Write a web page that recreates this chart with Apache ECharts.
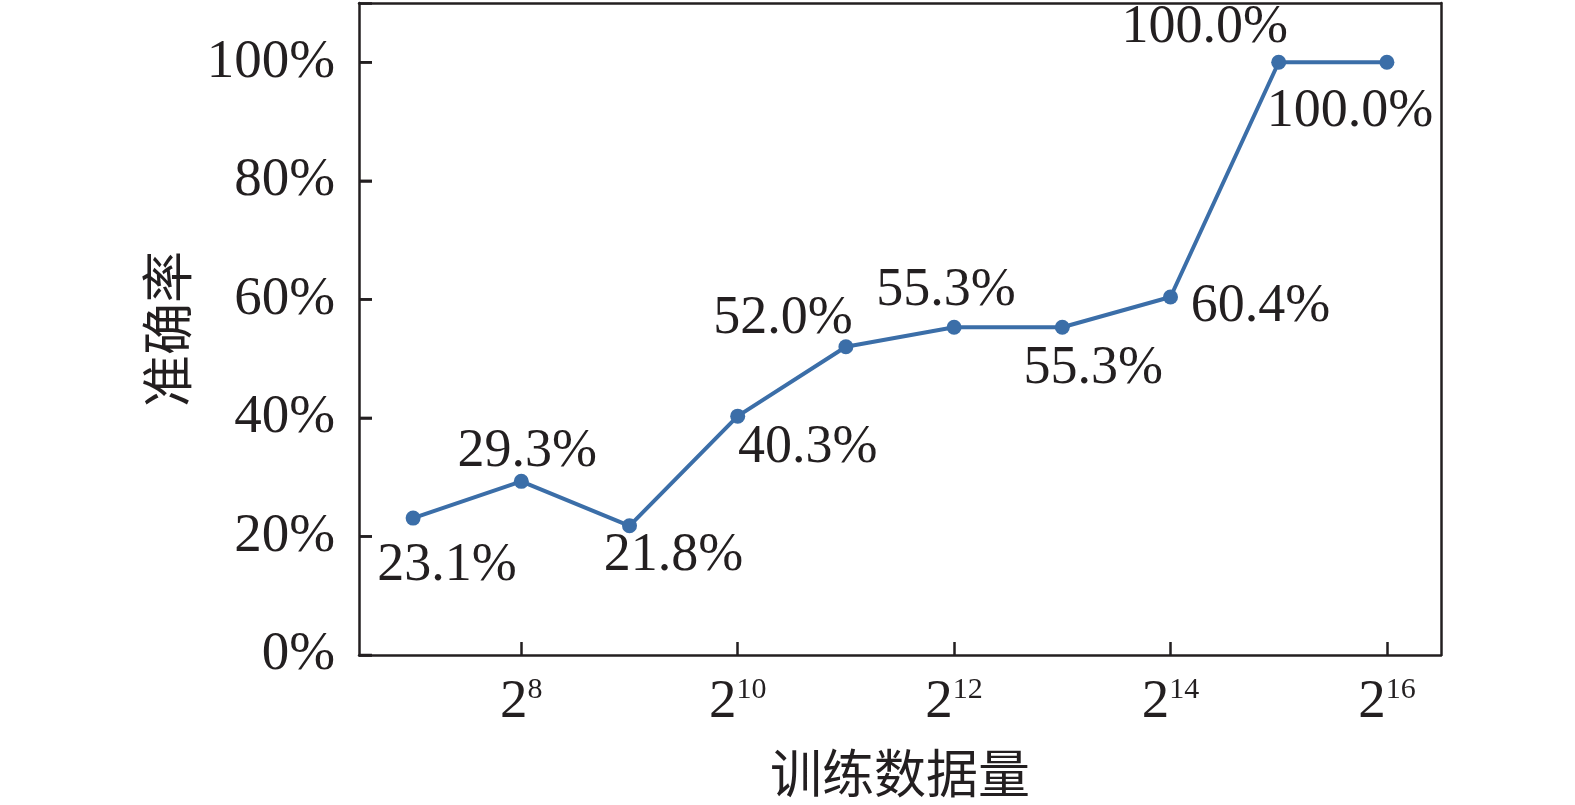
<!DOCTYPE html>
<html><head><meta charset="utf-8">
<script src="https://cdn.jsdelivr.net/npm/echarts@6/dist/echarts.min.js"></script>
<style>html,body{margin:0;padding:0;background:#fff}#c{width:1575px;height:805px}</style>
</head><body><div id="c"></div>
<script>
const exponents = [7, 8, 9, 10, 11, 12, 13, 14, 15, 16];
const accuracy = [23.1, 29.3, 21.8, 40.3, 52.0, 55.3, 55.3, 60.4, 100.0, 100.0];
const yTicks = [0, 20, 40, 60, 80, 100];
const xName = '训练数据量';
const yName = '准确率';
// label placement offsets (style only)
const labelOffsets = [[34,48],[6,-30],[44,30],[70,32],[-63,-28],[-8,-36],[31,42],[90,10],[-74,-34],[-37,50]];

const ink = '#231f20';
const blue = '#3b6ea8';
const serif = '"Liberation Serif","Times New Roman",serif';
const chart = echarts.init(document.getElementById('c'));
const evenOnly = (i) => exponents[i] % 2 === 0;
const frameAxis = {
  axisLine: {show: true, onZero: false, lineStyle: {color: ink, width: 2.5}},
  axisTick: {show: false}, axisLabel: {show: false}, splitLine: {show: false}
};
chart.setOption({
  animation: false,
  grid: {left: 359, right: 134, top: 3, bottom: 150, outerBoundsMode: 'none', containLabel: false},
  xAxis: [{
    type: 'category',
    data: exponents.map(String),
    boundaryGap: true,
    name: xName, nameLocation: 'middle', nameGap: 92, nameMoveOverlap: false,
    nameTextStyle: {fontFamily: '"Noto Sans CJK SC"', fontSize: 52, color: ink},
    axisLine: {show: true, onZero: false, lineStyle: {color: ink, width: 2.5}},
    axisTick: {show: true, inside: true, length: 13, alignWithLabel: true, interval: evenOnly,
      lineStyle: {color: ink, width: 2.5}},
    axisLabel: {
      interval: evenOnly,
      margin: 20,
      formatter: (v) => '{b|2}{s|' + v + '}',
      rich: {
        b: {fontFamily: serif, fontSize: 55, color: ink},
        s: {fontFamily: serif, fontSize: 30, color: ink, padding: [0, 0, 24, 0]}
      }
    },
    splitLine: {show: false}
  }, Object.assign({type: 'category', position: 'top', data: exponents.map(String), boundaryGap: true}, frameAxis)],
  yAxis: [{
    type: 'value', min: 0, max: 110, interval: 20,
    name: yName, nameLocation: 'middle', nameGap: 166, nameRotate: 90, nameMoveOverlap: false,
    nameTextStyle: {fontFamily: '"Noto Sans CJK SC"', fontSize: 52, color: ink},
    axisLine: {show: true, onZero: false, lineStyle: {color: ink, width: 2.5}},
    axisTick: {show: true, inside: true, length: 13, lineStyle: {color: ink, width: 2.5}},
    axisLabel: {show: true, margin: 24, fontFamily: serif, fontSize: 55, color: ink,
      formatter: (v) => yTicks.includes(v) ? v + '%' : ''},
    splitLine: {show: false}
  }, Object.assign({type: 'value', position: 'right', min: 0, max: 110, interval: 20}, frameAxis)],
  series: [{
    type: 'line',
    data: accuracy.map((v, i) => ({
      value: v,
      label: {offset: labelOffsets[i]}
    })),
    symbol: 'circle', symbolSize: 15,
    lineStyle: {color: blue, width: 4},
    itemStyle: {color: blue},
    label: {
      show: true, position: 'inside', align: 'center', verticalAlign: 'middle',
      fontFamily: serif, fontSize: 54, color: ink,
      formatter: (p) => p.value.toFixed(1) + '%'
    }
  }]
});
// y-axis inward ticks, positioned through the axis scale
const x0 = chart.convertToPixel({xAxisIndex: 0}, '7') - chart.getModel().getComponent('xAxis', 0).axis.getBandWidth() / 2;
chart.setOption({
  graphic: yTicks.map((v) => {
    const y = chart.convertToPixel({yAxisIndex: 0}, v);
    return {type: 'line', silent: true, z: 10,
      shape: {x1: x0, y1: y, x2: x0 + 13, y2: y},
      style: {stroke: ink, lineWidth: 2.5}};
  })
});
</script></body></html>
